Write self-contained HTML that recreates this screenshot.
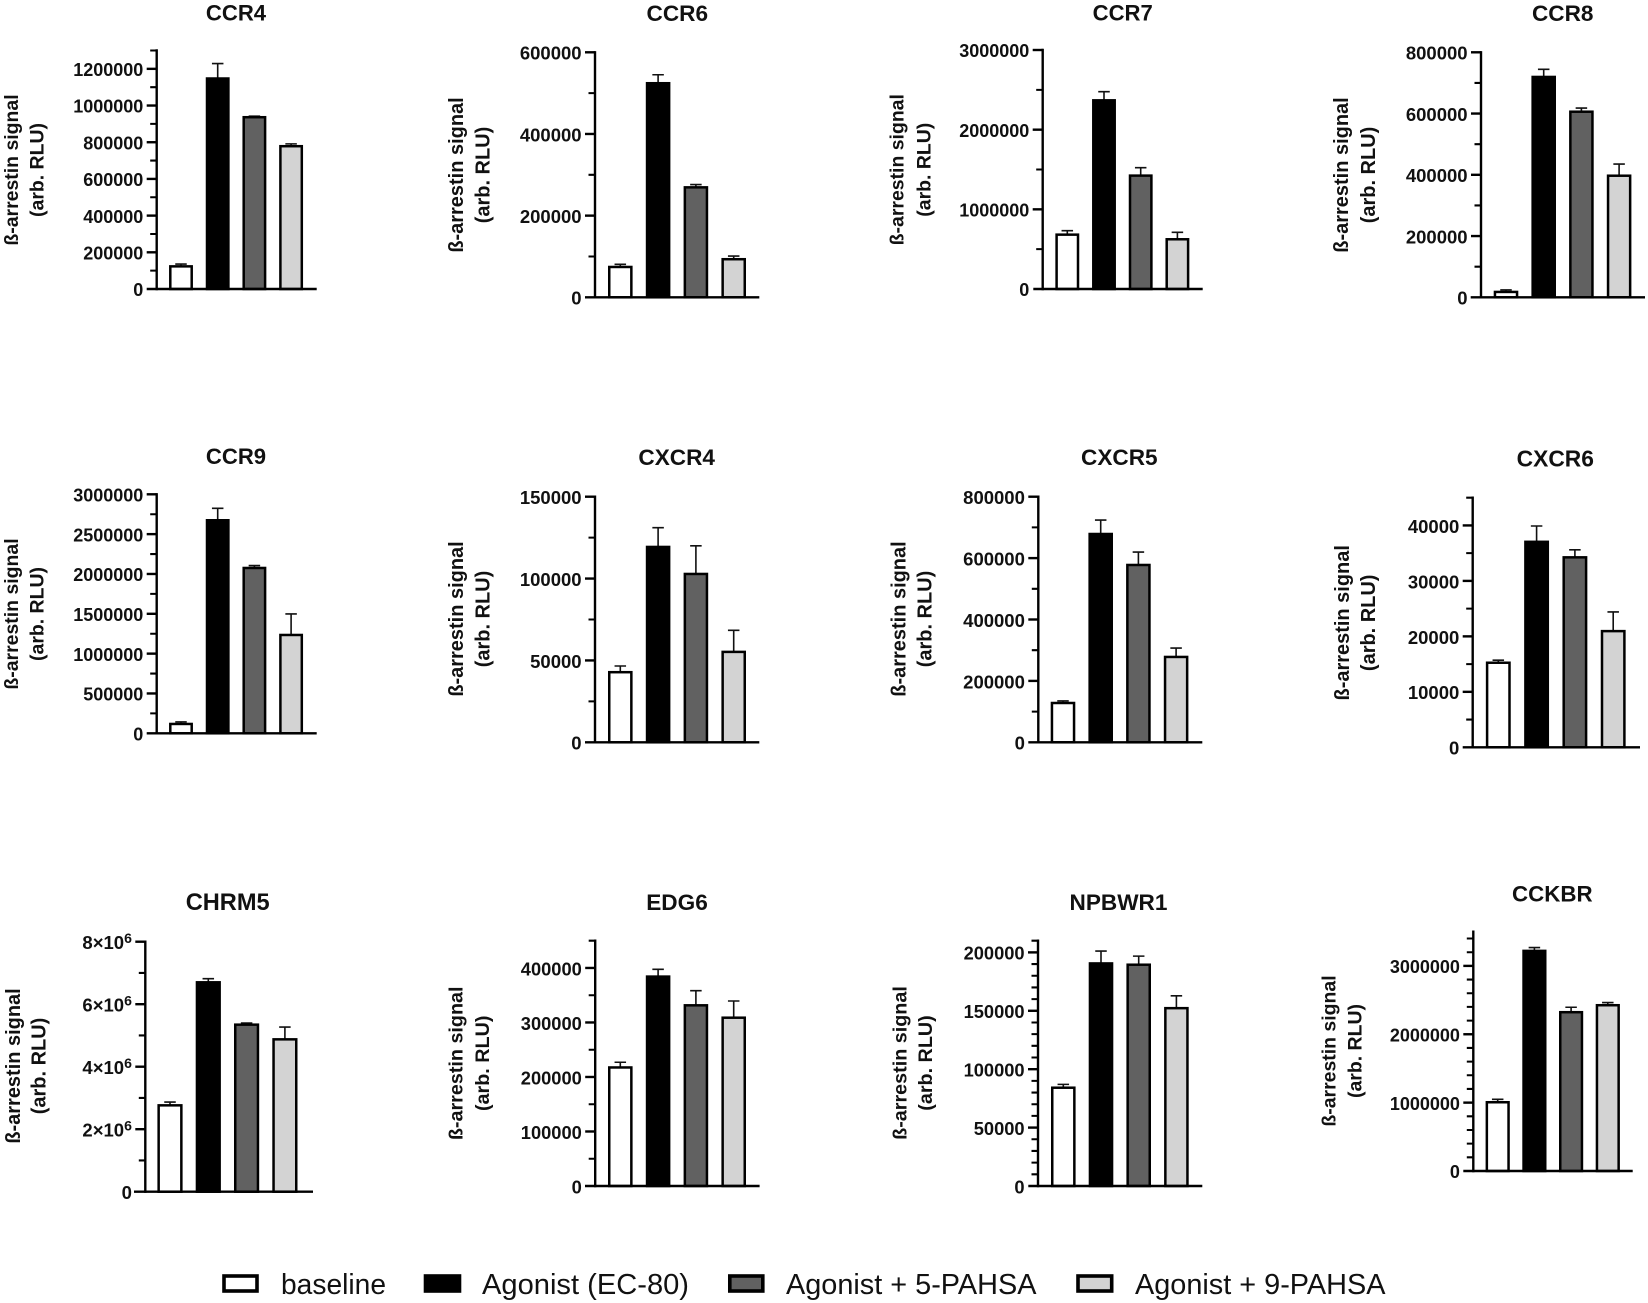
<!DOCTYPE html>
<html lang="en">
<head>
<meta charset="utf-8">
<title>β-arrestin signal across GPCR panels</title>
<style>
html,body{margin:0;padding:0;background:#fff;width:1648px;height:1303px;overflow:hidden}
svg{display:block;font-family:"Liberation Sans",Arial,sans-serif}
</style>
</head>
<body>
<svg id="fig" xmlns="http://www.w3.org/2000/svg" width="1648" height="1303" viewBox="0 0 1648 1303">
  <rect x="0" y="0" width="1648" height="1303" fill="#ffffff"/>
  <g id="panels"></g>
  <g id="legend">
    <g>
      <rect x="224" y="1276" width="33" height="15" fill="#ffffff" stroke="#000" stroke-width="3.6"/>
      <text x="281" y="1294" font-size="28.8" fill="#111" textLength="105" lengthAdjust="spacingAndGlyphs">baseline</text>
    </g>
    <g>
      <rect x="425.5" y="1276" width="34" height="15" fill="#000000" stroke="#000" stroke-width="3.6"/>
      <text x="482" y="1294" font-size="28.8" fill="#111" textLength="207" lengthAdjust="spacingAndGlyphs">Agonist (EC-80)</text>
    </g>
    <g>
      <rect x="729.8" y="1276" width="33" height="15" fill="#616161" stroke="#000" stroke-width="3.6"/>
      <text x="786" y="1294" font-size="28.8" fill="#111" textLength="250.5" lengthAdjust="spacingAndGlyphs">Agonist + 5-PAHSA</text>
    </g>
    <g>
      <rect x="1078" y="1276" width="33.7" height="15" fill="#d3d3d3" stroke="#000" stroke-width="3.6"/>
      <text x="1135" y="1294" font-size="28.8" fill="#111" textLength="250.5" lengthAdjust="spacingAndGlyphs">Agonist + 9-PAHSA</text>
    </g>
  </g>
</svg>
<script>
// ---- chart data ----
const receptors = ["CCR4","CCR6","CCR7","CCR8","CCR9","CXCR4","CXCR5","CXCR6","CHRM5","EDG6","NPBWR1","CCKBR"];
const seriesNames = ["baseline","agonist","5-pahsa","9-pahsa"];
const seriesFills = ["#ffffff","#000000","#616161","#d3d3d3"];

const baselineValues = [125000,75000,686000,18500,121000,43000,129000,15300,2773000,218000,84400,1010000];
const agonistValues  = [1149000,525000,2372000,720500,2678000,119500,679500,37100,6710000,384700,190800,3224000];
const pahsa5Values   = [938000,270000,1427000,607000,2079000,103000,578600,34300,5355000,332000,189700,2327000];
const pahsa9Values   = [780000,94000,628000,398000,1238000,55400,279000,21000,4885000,309300,152500,2429000];

const baselineErrors = [11000,5800,46000,5500,21000,3600,5600,400,97000,9000,2600,39000];
const agonistErrors  = [80000,20000,105000,24000,146000,11600,44500,2800,106000,12800,10300,44000];
const pahsa5Errors   = [4000,6000,96000,11000,26000,17000,41200,1300,42000,26300,7100,68000];
const pahsa9Errors   = [11000,7000,83000,37000,260000,13000,28000,3400,384000,30100,10300,34000];

const yMaxValues = [1300000,600000,3000000,800000,3000000,150000,800000,45000,8000000,450000,210000,3500000];
const minorSteps = [100000,100000,500000,100000,250000,25000,100000,5000,1000000,50000,10000,200000];

const tickValues = [
  [0,200000,400000,600000,800000,1000000,1200000],
  [0,200000,400000,600000],
  [0,1000000,2000000,3000000],
  [0,200000,400000,600000,800000],
  [0,500000,1000000,1500000,2000000,2500000,3000000],
  [0,50000,100000,150000],
  [0,200000,400000,600000,800000],
  [0,10000,20000,30000,40000],
  [0,2000000,4000000,6000000,8000000],
  [0,100000,200000,300000,400000],
  [0,50000,100000,150000,200000],
  [0,1000000,2000000,3000000]
];
const tickLabels = [
  ["0","200000","400000","600000","800000","1000000","1200000"],
  ["0","200000","400000","600000"],
  ["0","1000000","2000000","3000000"],
  ["0","200000","400000","600000","800000"],
  ["0","500000","1000000","1500000","2000000","2500000","3000000"],
  ["0","50000","100000","150000"],
  ["0","200000","400000","600000","800000"],
  ["0","10000","20000","30000","40000"],
  ["0","2×10^6","4×10^6","6×10^6","8×10^6"],
  ["0","100000","200000","300000","400000"],
  ["0","50000","100000","150000","200000"],
  ["0","1000000","2000000","3000000"]
];

// ---- panel layout ----
const frames = [
  {ax:156.7, top:50.5, base:289,   x0:146.7, x1:316.7, bar0:181,    step:36.7, barW:23.9, tx:236,    ty:12.5,  tf:22.1, l1:11,     l2:36.7,   ly:170,   fs:18},
  {ax:595,   top:52.3, base:297.3, x0:585,   x1:759.3, bar0:620.3,  step:37.8, barW:24.6, tx:677.3,  ty:13,    tf:22.6, l1:455.7,  l2:482.3,  ly:175,   fs:18.5},
  {ax:1042.7,top:50,   base:289,   x0:1033.3,x1:1202.7,bar0:1067.3, step:36.7, barW:23.9, tx:1122.7, ty:12.5,  tf:22.1, l1:896.7,  l2:923.3,  ly:169.7, fs:18},
  {ax:1481,  top:52.3, base:297.3, x0:1470.7,x1:1645,  bar0:1506,   step:37.7, barW:24.6, tx:1562.7, ty:13,    tf:22.6, l1:1341,   l2:1367.7, ly:175,   fs:18.5},
  {ax:156.7, top:494.3,base:733.3, x0:146.7, x1:316.7, bar0:181,    step:36.7, barW:23.9, tx:236,    ty:456,   tf:22.1, l1:11,     l2:36.7,   ly:614,   fs:18},
  {ax:595,   top:496.7,base:742.3, x0:585,   x1:759.3, bar0:620.3,  step:37.8, barW:24.6, tx:676.7,  ty:456.7, tf:22.6, l1:455.7,  l2:482.3,  ly:619,   fs:18.5},
  {ax:1038.3,top:496.7,base:742.3, x0:1028.3,x1:1202.3,bar0:1063,   step:37.7, barW:24.6, tx:1119.3, ty:456.7, tf:22.6, l1:898.3,  l2:924.3,  ly:619,   fs:18.5},
  {ax:1472.7,top:497.7,base:747.3, x0:1462.7,x1:1640,  bar0:1498.3, step:38.3, barW:24.9, tx:1555.3, ty:458.3, tf:22.8, l1:1341.7, l2:1367.7, ly:622.8, fs:18.5},
  {ax:145.3, top:941.7,base:1191.7,x0:134,   x1:313,   bar0:170,    step:38.3, barW:25.2, tx:227.7,  ty:901.7, tf:23.6, l1:12.7,   l2:38.3,   ly:1066,  fs:18.5},
  {ax:595.2, top:940.7,base:1186,  x0:585,   x1:759.6, bar0:620.3,  step:37.8, barW:24.6, tx:677,    ty:901.7, tf:22.6, l1:455.2,  l2:481.8,  ly:1063.3,fs:18.3},
  {ax:1038,  top:940.7,base:1186,  x0:1028.3,x1:1202.3,bar0:1063.3, step:37.7, barW:24.6, tx:1118.5, ty:901.7, tf:22.6, l1:899.4,  l2:925,    ly:1063,  fs:18.3},
  {ax:1473.3,top:931.7,base:1171,  x0:1463.3,x1:1632.7,bar0:1497.7, step:36.7, barW:24.2, tx:1552.3, ty:893.3, tf:22.3, l1:1328.3, l2:1354.3, ly:1051,  fs:18}
];

const NS = "http://www.w3.org/2000/svg";
const panelsRoot = document.getElementById("panels");

function mk(parent, tag, attrs){
  const el = document.createElementNS(NS, tag);
  for (const k in attrs) el.setAttribute(k, attrs[k]);
  parent.appendChild(el);
  return el;
}
function yScale(frame, yMax, v){
  return frame.base - (v / yMax) * (frame.base - frame.top);
}
function xScale(frame, i){
  return frame.bar0 + i * frame.step;
}

const seriesValues = [baselineValues, agonistValues, pahsa5Values, pahsa9Values];
const seriesErrors = [baselineErrors, agonistErrors, pahsa5Errors, pahsa9Errors];
const AXIS_W = 2.4, BAR_STROKE = 2.5, ERR_W = 1.6, CAP_W = 11.5;

receptors.forEach(function(name, p){
  const f = frames[p];
  const yMax = yMaxValues[p];
  const slug = name.toLowerCase();

  const g = mk(panelsRoot, "g", {});
  
  

  const title = mk(g, "text", {x:f.tx, y:f.ty, dy:"0.36em", "text-anchor":"middle", "font-size":f.tf, "font-weight":"bold", fill:"#111"});
  title.textContent = name;
  
  

  const yl = mk(g, "text", {"text-anchor":"middle", "font-size":f.fs*1.08, "font-weight":"bold", fill:"#111", transform:"rotate(-90 "+f.l1+" "+f.ly+")", x:f.l1, y:f.ly, dy:"0.36em"});
  yl.textContent = "ß-arrestin signal";
  
  

  const yl2 = mk(g, "text", {"text-anchor":"middle", "font-size":f.fs*1.08, "font-weight":"bold", fill:"#111", transform:"rotate(-90 "+f.l2+" "+f.ly+")", x:f.l2, y:f.ly, dy:"0.36em"});
  yl2.textContent = "(arb. RLU)";
  
  

  // error bars under the bars
  seriesNames.forEach(function(s, i){
    const val = seriesValues[i][p];
    const err = seriesErrors[i][p];
    const cx = xScale(f, i);
    const eb = mk(g, "path", {
      d: "M"+cx+" "+yScale(f,yMax,val)+"V"+yScale(f,yMax,val+err)+"M"+(cx-CAP_W/2)+" "+yScale(f,yMax,val+err)+"H"+(cx+CAP_W/2),
      fill:"none", stroke:"#111", "stroke-width":ERR_W
    });
    
    
  });

  // bars
  seriesNames.forEach(function(s, i){
    const val = seriesValues[i][p];
    const cx = xScale(f, i);
    const yTop = yScale(f, yMax, val) + 0.3;
    const inner = f.barW - BAR_STROKE;
    const bar = mk(g, "rect", {
      x: cx - inner/2, y: yTop, width: inner, height: Math.max(0, f.base - yTop),
      fill: seriesFills[i], stroke:"#000", "stroke-width":BAR_STROKE
    });
    
    
  });

  // minor ticks
  const minorPath = [];
  const minor = minorSteps[p];
  for (let k = 0; k * minor <= yMax + 1e-6; k++){
    const v = k * minor;
    if (tickValues[p].indexOf(v) === -1){
      minorPath.push("M"+(f.ax-6.5)+" "+yScale(f,yMax,v)+"H"+f.ax);
    }
  }
  const mt = mk(g, "path", {d:minorPath.join(""), stroke:"#000", "stroke-width":AXIS_W*0.85, fill:"none"});
  
  

  // major ticks + labels
  tickValues[p].forEach(function(v, t){
    const y = yScale(f, yMax, v);
    if (v !== 0){
      const tk = mk(g, "line", {x1:f.ax-10, x2:f.ax, y1:y, y2:y, stroke:"#000", "stroke-width":AXIS_W});
      
      
    }
    const lab = mk(g, "text", {x:f.ax-13.4, y:y, dy:"0.40em", "text-anchor":"end", "font-size":f.fs, "font-weight":"bold", fill:"#111"});
    const parts = tickLabels[p][t].split("^");
    lab.appendChild(document.createTextNode(parts[0]));
    if (parts[1]){
      const sup = mk(lab, "tspan", {dy:"-0.42em", "font-size":"0.76em"});
      sup.textContent = parts[1];
    }
    
    
  });

  // axes
  const yAxis = mk(g, "line", {x1:f.ax, x2:f.ax, y1:f.top-AXIS_W/2, y2:f.base+AXIS_W/2, stroke:"#000", "stroke-width":AXIS_W});
  
  

  const xAxis = mk(g, "line", {x1:f.x0, x2:f.x1, y1:f.base, y2:f.base, stroke:"#000", "stroke-width":AXIS_W});
  
  
});
</script>
</body>
</html>
